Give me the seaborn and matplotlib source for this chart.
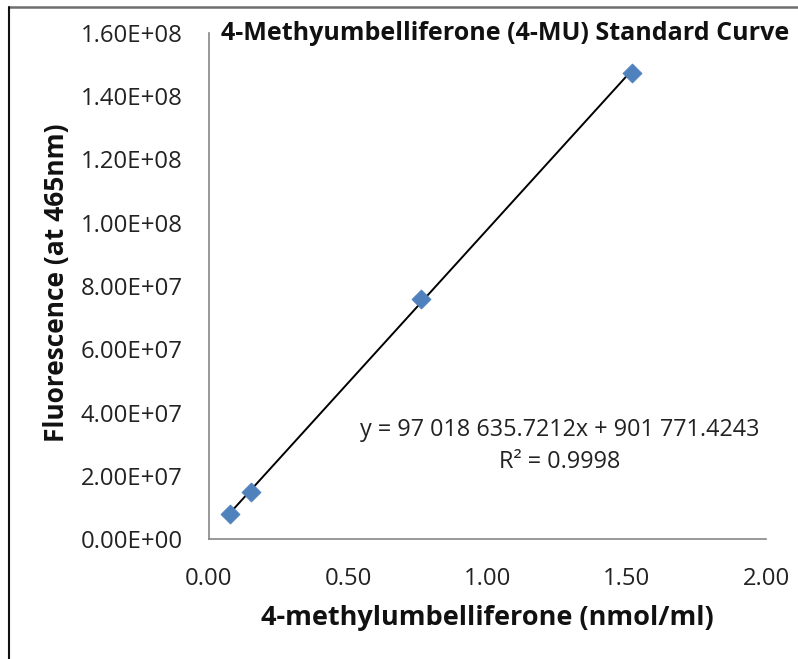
import numpy as np
import pandas as pd
import matplotlib
matplotlib.use("Agg")
import matplotlib.pyplot as plt
from matplotlib.ticker import FuncFormatter, MultipleLocator
from matplotlib.lines import Line2D
import seaborn as sns

# Data
concentration = [0.076, 0.152, 0.76, 1.52]           # nmol/ml
fluorescence = [8.0e6, 1.5e7, 7.6e7, 1.475e8]        # at 465nm
slope = 97018635.7212
intercept = 901771.4243
r_squared = 0.9998
title = "4-Methyumbelliferone (4-MU) Standard Curve"
x_label = "4-methylumbelliferone (nmol/ml)"
y_label = "Fluorescence (at 465nm)"
eq_text = "y = 97 018 635.7212x + 901 771.4243"
r2_text = "R² = 0.9998"

df = pd.DataFrame({"conc": concentration, "fluor": fluorescence})
trend = pd.DataFrame({"conc": [min(concentration), max(concentration)]})
trend["fluor"] = slope * trend["conc"] + intercept

sns.set_theme(style="white")
plt.rcParams["font.family"] = ["Open Sans", "DejaVu Sans"]

W, H = 798, 659
fig = plt.figure(figsize=(W / 100, H / 100), dpi=100)
ax = fig.add_axes([209 / W, 1 - 539 / H, (766 - 209) / W, (539 - 33) / H])

sns.lineplot(data=trend, x="conc", y="fluor", ax=ax, color="black", linewidth=1.4)
sns.scatterplot(data=df, x="conc", y="fluor", ax=ax, marker="D", s=95,
                color="#4F81BD", edgecolor="#4F81BD", linewidth=0.5, zorder=3)

ax.set_xlim(0, 2.0)
ax.set_ylim(0, 1.6e8)
ax.xaxis.set_major_locator(MultipleLocator(0.5))
ax.yaxis.set_major_locator(MultipleLocator(2e7))
ax.xaxis.set_major_formatter(FuncFormatter(lambda v, p: f"{v:.2f}"))
ax.yaxis.set_major_formatter(FuncFormatter(lambda v, p: f"{v:.2E}"))

for side in ["top", "right"]:
    ax.spines[side].set_visible(False)
for side in ["left", "bottom"]:
    ax.spines[side].set_color("#868686")
    ax.spines[side].set_linewidth(1.2)

ax.tick_params(axis="both", which="major", direction="out", length=6, width=1.2,
               color="#868686", labelsize=17.2, labelcolor="#222222")
ax.tick_params(axis="x", pad=14)
ax.tick_params(axis="y", pad=13)
ax.set_xlabel("")
ax.set_ylabel("")

fig.text(505 / W, 1 - 33 / H, title, ha="center", va="center", fontsize=18,
         fontweight="bold", color="#111111")
fig.text(487 / W, 1 - 618 / H, x_label, ha="center", va="center", fontsize=19.5,
         fontweight="bold", color="#111111")
fig.text(57 / W, 1 - 283 / H, y_label, ha="center", va="center", rotation=90,
         fontsize=19, fontweight="bold", color="#111111")
fig.text(560 / W, 1 - 430 / H, eq_text, ha="center", va="center", fontsize=16.8,
         color="#222222")
fig.text(560 / W, 1 - 462 / H, r2_text, ha="center", va="center", fontsize=16.8,
         color="#222222")

# partial frame (top and left)
fig.add_artist(Line2D([9 / W, 1.0], [1 - 7 / H, 1 - 7 / H], transform=fig.transFigure,
                      color="#6e6e6e", linewidth=1.8))
fig.add_artist(Line2D([9 / W, 9 / W], [0, 1 - 7 / H], transform=fig.transFigure,
                      color="#111111", linewidth=1.5))

fig.savefig("out.png", dpi=100)
